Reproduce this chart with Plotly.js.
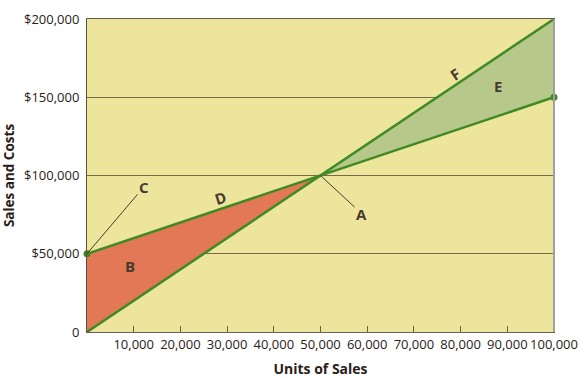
<!DOCTYPE html>
<html><head><meta charset="utf-8">
<script src="https://cdn.plot.ly/plotly-3.0.1.min.js"></script>
<style>html,body{margin:0;padding:0;background:#fff}</style>
</head><body>
<div id="chart" style="width:582px;height:381px"></div>
<script>
const units = [0, 50000, 100000];
const sales = [0, 100000, 200000];
const costs = [50000, 100000, 150000];
const xTickVals = [10000,20000,30000,40000,50000,60000,70000,80000,90000,100000];
const xTickText = ["10,000","20,000","30,000","40,000","50,000","60,000","70,000","80,000","90,000","100,000"];
const yTickVals = [0,50000,100000,150000,200000];
const yTickText = ["0","$50,000","$100,000","$150,000","$200,000"];
const labelText = ["A","B","C","D","E","F"];

const lineGreen = '#3f8a24';
const txt = '#4a3a30';
const font = 'Open Sans, Noto Sans, sans-serif';

const traces = [
  {x:[units[0],units[0],units[1]], y:[sales[0],costs[0],costs[1]], fill:'toself', fillcolor:'#e37856',
   mode:'none', type:'scatter', hoverinfo:'skip'},
  {x:[units[1],units[2],units[2]], y:[sales[1],sales[2],costs[2]], fill:'toself', fillcolor:'#b6c98a',
   mode:'none', type:'scatter', hoverinfo:'skip'},
  {x:units, y:sales, mode:'lines', line:{color:lineGreen,width:2.5}, type:'scatter'},
  {x:units, y:costs, mode:'lines', line:{color:lineGreen,width:2.5}, type:'scatter'},
  {x:[units[0],units[2]], y:[costs[0],costs[2]], mode:'markers', marker:{color:lineGreen,size:7}, type:'scatter', cliponaxis:false}
];

const lf = {family:font, size:15, color:txt};
const annotations = [
  {x:units[1], y:sales[1], text:'<b>'+labelText[0]+'</b>', showarrow:true, arrowhead:0, arrowwidth:1, arrowcolor:'#4a3a30', ax:41, ay:38, font:lf},
  {x:9200, y:42200, text:'<b>'+labelText[1]+'</b>', showarrow:false, font:lf},
  {x:units[0], y:costs[0], text:'<b>'+labelText[2]+'</b>', showarrow:true, arrowhead:0, arrowwidth:1, arrowcolor:'#4a3a30', ax:57, ay:-67, font:lf},
  {x:28500, y:85600, text:'<b>'+labelText[3]+'</b>', showarrow:false, textangle:-18, font:lf},
  {x:88000, y:157200, text:'<b>'+labelText[4]+'</b>', showarrow:false, font:lf},
  {x:78800, y:164900, text:'<b>'+labelText[5]+'</b>', showarrow:false, textangle:-34, font:lf}
];

const layout = {
  width:582, height:381,
  margin:{l:87, r:28, t:19, b:49},
  paper_bgcolor:'#ffffff', plot_bgcolor:'#ede59c',
  showlegend:false,
  font:{family:font, size:13, color:'#2a2018'},
  xaxis:{range:[0,100000], tickvals:xTickVals, ticktext:xTickText, ticks:'inside', ticklen:6, tickcolor:'#6b5e4e',
    showgrid:false, zeroline:false, showline:true, linecolor:'#6b5e4e', linewidth:1, mirror:true,
    tickfont:{family:font, size:13, color:'#2a2018'},
    title:{text:'<b>Units of Sales</b>', font:{family:font, size:14, color:'#2a2018'}, standoff:12}},
  yaxis:{range:[0,200000], tickvals:yTickVals, ticktext:yTickText, ticks:'', showgrid:true, gridcolor:'#7a6a4a', gridwidth:1,
    zeroline:false, showline:true, linecolor:'#5c4f3f', linewidth:1, mirror:true, ticklabelstandoff:4,
    tickfont:{family:font, size:13, color:'#2a2018'},
    title:{text:'<b>Sales and Costs</b>', font:{family:font, size:13.5, color:'#2a2018'}, standoff:6}},
  shapes:[{type:'line', xref:'paper', yref:'paper', x0:1, x1:1, y0:0, y1:1, line:{color:'#a0a0a0', width:2}}],
  annotations:annotations
};
Plotly.newPlot('chart', traces, layout, {displayModeBar:false, staticPlot:true});
</script>
</body></html>
